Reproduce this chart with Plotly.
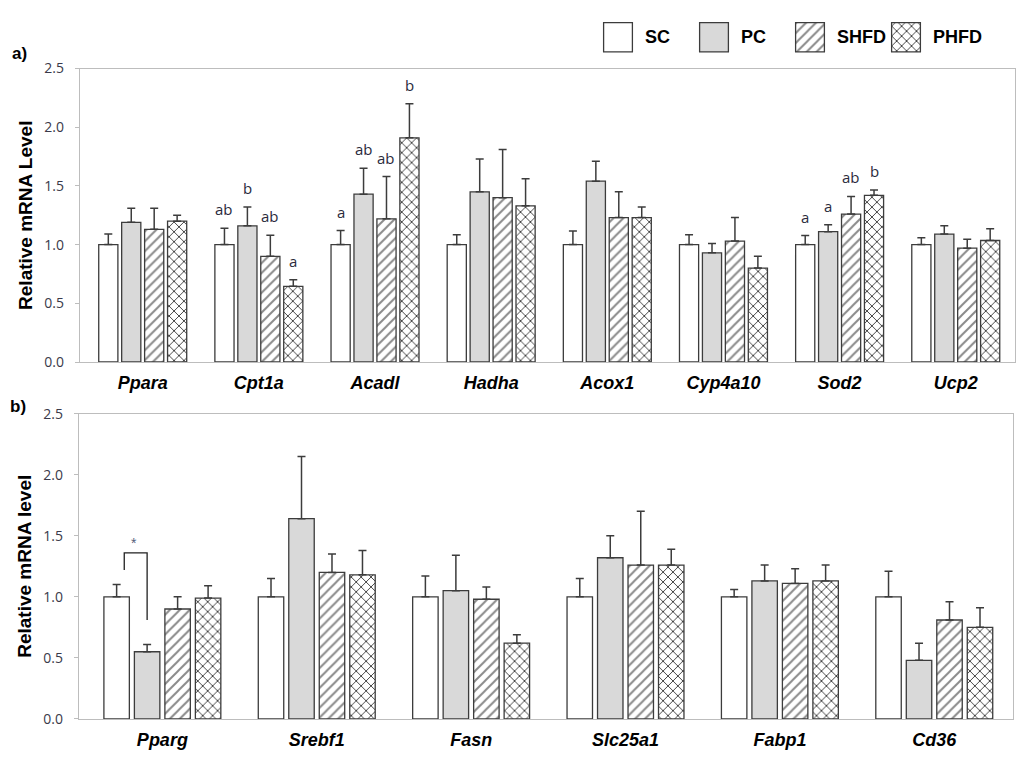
import plotly.graph_objects as go

GROUPS = ["SC", "PC", "SHFD", "PHFD"]

# ---- panel a ----
GENES_A = ["Ppara", "Cpt1a", "Acadl", "Hadha", "Acox1", "Cyp4a10", "Sod2", "Ucp2"]
SC_A = [1.00, 1.00, 1.00, 1.00, 1.00, 1.00, 1.00, 1.00]
SC_A_ERR = [0.09, 0.14, 0.12, 0.085, 0.115, 0.085, 0.077, 0.058]
PC_A = [1.19, 1.16, 1.43, 1.45, 1.54, 0.93, 1.11, 1.09]
PC_A_ERR = [0.12, 0.16, 0.22, 0.28, 0.17, 0.08, 0.06, 0.07]
SHFD_A = [1.13, 0.90, 1.22, 1.40, 1.23, 1.03, 1.26, 0.97]
SHFD_A_ERR = [0.18, 0.18, 0.36, 0.41, 0.22, 0.20, 0.15, 0.075]
PHFD_A = [1.20, 0.645, 1.91, 1.33, 1.23, 0.80, 1.42, 1.035]
PHFD_A_ERR = [0.05, 0.055, 0.29, 0.23, 0.09, 0.10, 0.045, 0.10]
LETTERS_A = {
    "Cpt1a": ["ab", "b", "ab", "a"],
    "Acadl": ["a", "ab", "ab", "b"],
    "Sod2": ["a", "a", "ab", "b"],
}

# ---- panel b ----
GENES_B = ["Pparg", "Srebf1", "Fasn", "Slc25a1", "Fabp1", "Cd36"]
SC_B = [1.00, 1.00, 1.00, 1.00, 1.00, 1.00]
SC_B_ERR = [0.10, 0.15, 0.17, 0.15, 0.06, 0.21]
PC_B = [0.55, 1.64, 1.05, 1.32, 1.13, 0.48]
PC_B_ERR = [0.06, 0.51, 0.29, 0.18, 0.13, 0.14]
SHFD_B = [0.90, 1.20, 0.98, 1.26, 1.11, 0.81]
SHFD_B_ERR = [0.10, 0.15, 0.10, 0.44, 0.12, 0.15]
PHFD_B = [0.99, 1.18, 0.62, 1.26, 1.13, 0.75]
PHFD_B_ERR = [0.10, 0.20, 0.07, 0.13, 0.13, 0.16]

Y_TICKS = [0.0, 0.5, 1.0, 1.5, 2.0, 2.5]

# ---- styles ----
EDGE = "#3c3c3c"
FILL = {"SC": "white", "PC": "#d9d9d9", "SHFD": "white", "PHFD": "white"}
PAT = {"SC": "", "PC": "", "SHFD": "/", "PHFD": "x"}
PAT_FG = {"SC": "white", "PC": "#d9d9d9", "SHFD": "#8a8a8a", "PHFD": "#333333"}
PAT_SOL = {"SC": 0.3, "PC": 0.3, "SHFD": 0.28, "PHFD": 0.24}
PAT_SIZE = {"SC": 7, "PC": 7, "SHFD": 7, "PHFD": 7}
BARGAP = 0.21
GROUPGAP = 0.165


def marker_for(g):
    return dict(
        color=FILL[g],
        line=dict(color=EDGE, width=1.3),
        pattern=dict(shape=PAT[g], fgcolor=PAT_FG[g], bgcolor=FILL[g],
                     size=PAT_SIZE[g], solidity=PAT_SOL[g], fillmode="replace"),
    )


fig = go.Figure()


def add_panel(genes, series, errs, xa, ya):
    for g, vals, err in zip(GROUPS, series, errs):
        fig.add_trace(go.Bar(
            x=genes, y=vals, name=g, xaxis=xa, yaxis=ya, showlegend=False,
            marker=marker_for(g),
            error_y=dict(type="data", symmetric=False, array=err,
                         arrayminus=[0] * len(err), color=EDGE,
                         thickness=1.5, width=4),
        ))


add_panel(GENES_A, [SC_A, PC_A, SHFD_A, PHFD_A],
          [SC_A_ERR, PC_A_ERR, SHFD_A_ERR, PHFD_A_ERR], "x", "y")
add_panel(GENES_B, [SC_B, PC_B, SHFD_B, PHFD_B],
          [SC_B_ERR, PC_B_ERR, SHFD_B_ERR, PHFD_B_ERR], "x2", "y2")

# legend, drawn as large swatches like the original
for g in GROUPS:
    fig.add_trace(go.Bar(
        x=[g], y=[1], xaxis="x3", yaxis="y3", width=0.3, offset=-0.15,
        showlegend=False, hoverinfo="skip", marker=marker_for(g),
    ))

annotations = []
slot = (1 - BARGAP) / len(GROUPS)
all_a = [SC_A, PC_A, SHFD_A, PHFD_A]
all_a_err = [SC_A_ERR, PC_A_ERR, SHFD_A_ERR, PHFD_A_ERR]
for gene, letters in LETTERS_A.items():
    i = GENES_A.index(gene)
    for j, lt in enumerate(letters):
        top = all_a[j][i] + all_a_err[j][i]
        annotations.append(dict(
            x=i + (j - 1.5) * slot, y=top, xref="x", yref="y",
            text=lt, showarrow=False, yanchor="bottom", yshift=7,
            font=dict(family="Open Sans, Liberation Sans", size=15, color="#2b2b3c"),
        ))

for g in GROUPS:
    annotations.append(dict(
        x=g, y=0.5, xref="x3", yref="y3", text=g, showarrow=False,
        xanchor="left", xshift=25, yanchor="middle",
        font=dict(family="Liberation Sans, Arial", size=18, color="black", weight="bold"),
    ))

annotations += [
    dict(x=0.01, y=0.941, xref="paper", yref="paper", text="a)", showarrow=False,
         xanchor="left", yanchor="middle",
         font=dict(family="Liberation Sans, Arial", size=17, color="black", weight="bold")),
    dict(x=0.008, y=0.4666, xref="paper", yref="paper", text="b)", showarrow=False,
         xanchor="left", yanchor="middle",
         font=dict(family="Liberation Sans, Arial", size=17, color="black", weight="bold")),
    # significance star in panel b
    dict(x=-1.5 * slot + 0.57 * slot, y=1.36, xref="x2", yref="y2", text="*",
         showarrow=False, yanchor="bottom", yshift=0,
         font=dict(family="Liberation Sans, Arial", size=14, color="#55607a")),
]

shapes = [
    dict(type="path", xref="x2", yref="y2",
         path=f"M {-1.5 * slot + 0.25 * slot},1.22 V 1.36 H {-0.5 * slot} V 0.81",
         line=dict(color="#202020", width=1.3)),
]

axis_common = dict(showgrid=False, zeroline=False, showline=True, linecolor="#bdbdbd",
                   linewidth=1.3, mirror=True, fixedrange=True)
cat_font = dict(family="Liberation Sans, Arial", size=18, color="black",
                weight="bold", style="italic")
tick_font = dict(family="Open Sans, Liberation Sans", size=14, color="#3a3a4a")
title_font = dict(family="Liberation Sans, Arial", size=19, color="black", weight="bold")
y_common = dict(range=[0, 2.5], tickvals=Y_TICKS, tickformat=".1f", tickfont=tick_font,
                ticks="outside", ticklen=4, tickcolor="#bdbdbd", tickwidth=1.2,
                ticklabelstandoff=8)

fig.update_layout(
    width=1024, height=763,
    margin=dict(l=0, r=0, t=0, b=0),
    paper_bgcolor="white", plot_bgcolor="white",
    barmode="group", bargap=BARGAP, bargroupgap=GROUPGAP,
    showlegend=False,
    xaxis=dict(domain=[80 / 1024, 1015 / 1024], anchor="y", range=[-0.54, 7.51],
               tickfont=cat_font, ticks="", ticklabelstandoff=4, **axis_common),
    yaxis=dict(domain=[(763 - 361) / 763, (763 - 60) / 763], anchor="x",
               title=dict(text="Relative mRNA Level", font=title_font, standoff=6),
               **y_common, **axis_common),
    xaxis2=dict(domain=[79 / 1024, 1013 / 1024], anchor="y2", range=[-0.54, 5.51],
                tickfont=cat_font, ticks="", ticklabelstandoff=4, **axis_common),
    yaxis2=dict(domain=[(763 - 727) / 763, (763 - 414) / 763], anchor="x2",
                title=dict(text="Relative mRNA level", font=title_font, standoff=6),
                **y_common, **axis_common),
    xaxis3=dict(domain=[570 / 1024, 954 / 1024], anchor="y3", range=[-0.5, 3.5],
                visible=False, fixedrange=True),
    yaxis3=dict(domain=[(763 - 44.5) / 763, (763 - 11.5) / 763], anchor="x3",
                range=[-0.05, 1.05], visible=False, fixedrange=True),
    annotations=annotations,
    shapes=shapes,
)

fig.write_html(
    "out.html",
    config={"displayModeBar": False},
    post_script="document.body.style.margin='0px';document.body.style.padding='0px';",
)
